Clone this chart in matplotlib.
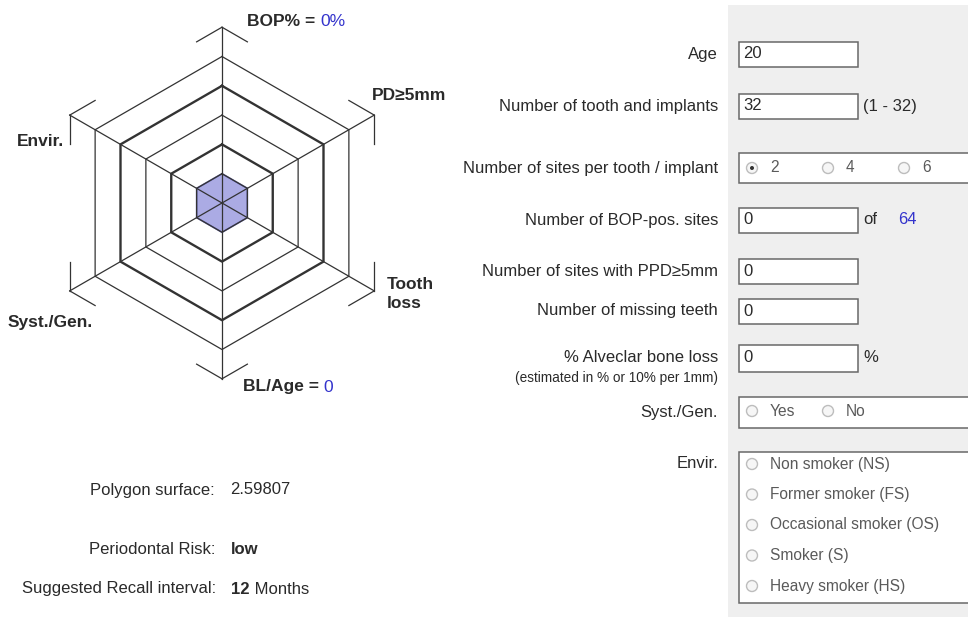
import numpy as np
import matplotlib
matplotlib.use("Agg")
from matplotlib import pyplot as plt
from matplotlib.patches import Rectangle, Circle

plt.rcParams['font.family'] = ['Liberation Sans', 'DejaVu Sans']

# radar data
axis_names = ["BOP%", "PD≥5mm", "Tooth\nloss", "BL/Age", "Syst./Gen.", "Envir."]
risk_values = [1, 1, 1, 1, 1, 1]
ring_levels = [1, 2, 3, 4, 5]
thick_rings = [2, 4]
axis_max = 6
bop_percent = "0%"
bl_age = "0"

# form data
age = "20"
n_teeth = "32"
teeth_range = "(1 - 32)"
site_options = ["2", "4", "6"]
site_selected = "2"
bop_sites = "0"
bop_total = "64"
ppd_sites = "0"
missing_teeth = "0"
bone_loss = "0"
syst_options = ["Yes", "No"]
envir_options = ["Non smoker (NS)", "Former smoker (FS)", "Occasional smoker (OS)",
                 "Smoker (S)", "Heavy smoker (HS)"]

# summary
polygon_surface = "2.59807"
risk_level = "low"
recall_months = "12"

W, H = 968, 617
fig = plt.figure(figsize=(W / 100, H / 100), dpi=100)
ax = fig.add_axes([0, 0, 1, 1])
ax.set_xlim(0, W)
ax.set_ylim(H, 0)
ax.axis('off')

txt = '#2a2a2a'
blue = '#3333cc'
fs = 12

# ---- radar ----
cx, cy, unit = 222, 203, 29.3
rmax = 6.5
half = rmax * unit
pax = fig.add_axes([(cx - half) / W, (H - cy - half) / H, 2 * half / W, 2 * half / H],
                   projection='polar')
pax.set_theta_zero_location('N')
pax.set_theta_direction(-1)
pax.set_ylim(0, rmax)
pax.grid(False)
pax.set_xticks([])
pax.set_yticks([])
pax.spines['polar'].set_visible(False)
pax.patch.set_alpha(0)

n = len(axis_names)
th = np.deg2rad(np.arange(n) * 360 / n)
thc = np.append(th, th[0])

for lv in ring_levels:
    lw = 1.7 if lv in thick_rings else 0.9
    pax.plot(thc, [lv] * (n + 1), color='#333333', lw=lw)
for t in th:
    pax.plot([t, t], [0, axis_max], color='#333333', lw=0.9)

# brackets at axis ends
for i, t in enumerate(th):
    vx, vy = axis_max * np.sin(t), axis_max * np.cos(t)
    for j in (i - 1, i + 1):
        t2 = th[j % n]
        wx, wy = axis_max * np.sin(t2), axis_max * np.cos(t2)
        px, py = vx + (wx - vx) / 6, vy + (wy - vy) / 6
        pax.plot([t, np.arctan2(px, py)], [axis_max, np.hypot(px, py)],
                 color='#333333', lw=0.9)

vals = risk_values + risk_values[:1]
pax.fill(thc, vals, facecolor='#9d9de0', edgecolor='#5656a8', lw=1.2, alpha=0.85)

bold = dict(fontsize=12.5, fontweight='bold', color=txt)
t1 = ax.text(247, 22, "BOP% = ", va='center', ha='left', **bold)
ax.annotate(bop_percent, xy=(1, 0), xycoords=t1, va='bottom', ha='left',
            fontsize=12.5, color=blue)
ax.text(372, 95, axis_names[1], va='center', ha='left', **bold)
ax.text(387, 294, axis_names[2], va='center', ha='left', linespacing=1.3, **bold)
t2 = ax.text(243, 387, "BL/Age = ", va='center', ha='left', **bold)
ax.annotate(bl_age, xy=(1, 0), xycoords=t2, va='bottom', ha='left',
            fontsize=12.5, color=blue)
ax.text(8, 322, axis_names[4], va='center', ha='left', **bold)
ax.text(17, 142, axis_names[5], va='center', ha='left', **bold)

# ---- summary ----
norm = dict(fontsize=fs, color=txt, va='center')
ax.text(215, 490, "Polygon surface:", ha='right', **norm)
ax.text(230, 490, polygon_surface, ha='left', **norm)
ax.text(215, 549, "Periodontal Risk:", ha='right', **norm)
ax.text(231, 549, risk_level, ha='left', fontweight='bold', **norm)
ax.text(216, 589, "Suggested Recall interval:", ha='right', **norm)
t3 = ax.text(231, 589, recall_months, ha='left', fontweight='bold', **norm)
ax.annotate(" " + "Months", xy=(1, 0), xycoords=t3, va='bottom', ha='left',
            fontsize=fs, color=txt)

# ---- form panel ----
ax.add_patch(Rectangle((728, 5), W - 728, H - 5, facecolor='#efefef', edgecolor='none'))

lab_x = 718
box_x, box_w = 739, 119


def field(y, value, h=25):
    ax.add_patch(Rectangle((box_x, y - h / 2), box_w, h, facecolor='white',
                           edgecolor='#686868', lw=1.1))
    ax.text(box_x + 4, y, value, ha='left', **norm)


def radio(x, y, label, on=False, tcol='#5a5a5a'):
    ax.add_patch(Circle((x, y), 5.5, facecolor='#f6f6f6', edgecolor='#bdbdbd', lw=1))
    if on:
        ax.add_patch(Circle((x, y), 2, facecolor='#333333', edgecolor='none'))
    ax.text(x + 18, y, label, ha='left', va='center', fontsize=11.2, color=tcol)


rows = {"age": 54, "teeth": 106, "sites": 168, "bop": 220, "ppd": 271,
        "missing": 311, "bone": 358, "syst": 412, "envir": 463}

ax.text(lab_x, rows["age"], "Age", ha='right', **norm)
field(rows["age"], age)
ax.text(lab_x, rows["teeth"], "Number of tooth and implants", ha='right', **norm)
field(rows["teeth"], n_teeth)
ax.text(863, rows["teeth"], teeth_range, ha='left', **norm)

ax.text(lab_x, rows["sites"], "Number of sites per tooth / implant", ha='right', **norm)
ax.add_patch(Rectangle((box_x, rows["sites"] - 15), 260, 30, facecolor='white',
                       edgecolor='#686868', lw=1.1))
for k, opt in enumerate(site_options):
    radio(752 + 76 * k, rows["sites"], opt, on=(opt == site_selected))

ax.text(lab_x, rows["bop"], "Number of BOP-pos. sites", ha='right', **norm)
field(rows["bop"], bop_sites)
ax.text(863, rows["bop"], "of", ha='left', **norm)
ax.text(898, rows["bop"], bop_total, ha='left', fontsize=fs, color=blue, va='center')

ax.text(lab_x, rows["ppd"], "Number of sites with PPD≥5mm", ha='right', **norm)
field(rows["ppd"], ppd_sites)
ax.text(lab_x, rows["missing"], "Number of missing teeth", ha='right', **norm)
field(rows["missing"], missing_teeth)
ax.text(lab_x, rows["bone"], "% Alveclar bone loss", ha='right', **norm)
ax.text(lab_x, rows["bone"] + 20, "(estimated in % or 10% per 1mm)", ha='right',
        va='center', fontsize=9.8, color=txt)
field(rows["bone"], bone_loss, h=27)
ax.text(863, rows["bone"], "%", ha='left', **norm)

ax.text(lab_x, rows["syst"], "Syst./Gen.", ha='right', **norm)
ax.add_patch(Rectangle((box_x, rows["syst"] - 15), 260, 31, facecolor='white',
                       edgecolor='#686868', lw=1.1))
for k, opt in enumerate(syst_options):
    radio(752 + 76 * k, rows["syst"] - 1, opt)

ax.text(lab_x, rows["envir"], "Envir.", ha='right', **norm)
ax.add_patch(Rectangle((box_x, 452), 260, 151, facecolor='white',
                       edgecolor='#686868', lw=1.1))
for k, opt in enumerate(envir_options):
    radio(752, 464 + 30.5 * k, opt)

fig.savefig("out.png", dpi=100)
